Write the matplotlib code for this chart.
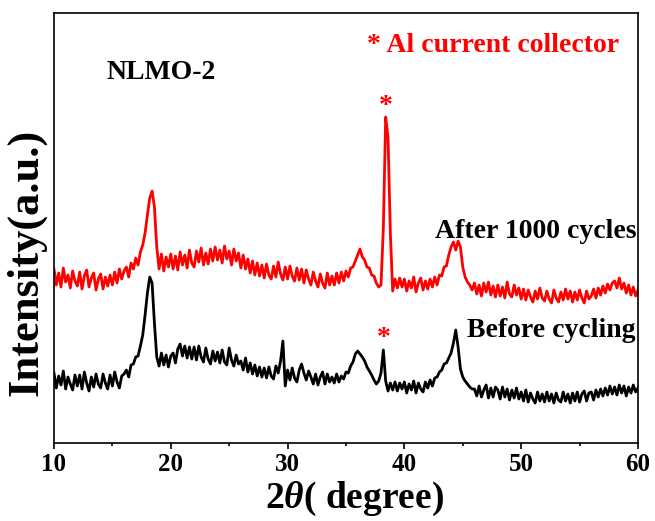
# XRD do NLMO-2: antes e depois de 1000 ciclos
import matplotlib.pyplot as plt
import numpy as np

plt.rcParams['font.family'] = 'Liberation Serif'
plt.rcParams['font.weight'] = 'bold'
plt.rcParams['mathtext.fontset'] = 'custom'
plt.rcParams['mathtext.it'] = 'Liberation Serif:italic:bold'
plt.rcParams['mathtext.rm'] = 'Liberation Serif:bold'

# 2theta de 10 a 60, passo 0.2
two_theta = np.linspace(10, 60, 251)

after_1000 = [
    174, 158, 170, 156, 175, 161, 168, 155, 172, 162,
    157, 171, 154, 167, 173, 156, 165, 170, 153, 164,
    169, 154, 166, 157, 168, 158, 171, 160, 174, 164,
    172, 176, 166, 180, 174, 185, 178, 191, 198, 210,
    228, 245, 252, 236, 196, 174, 189, 172, 186, 176,
    189, 174, 187, 173, 191, 178, 188, 175, 193, 180,
    176, 192, 181, 195, 178, 190, 179, 194, 182, 196,
    183, 193, 180, 197, 184, 192, 178, 194, 182, 190,
    175, 188, 174, 184, 170, 182, 168, 180, 167, 178,
    165, 179, 168, 164, 177, 166, 181, 169, 163, 176,
    164, 177, 167, 162, 175, 163, 174, 160, 173, 164,
    158, 171, 162, 156, 169, 160, 155, 170, 158, 167,
    158, 170, 160, 171, 162, 172, 166, 175, 176, 182,
    188, 194, 186, 183, 176, 175, 168, 167, 160, 156,
    158, 215, 326, 306, 210, 152, 164, 155, 165, 156,
    164, 152, 162, 155, 166, 151, 160, 165, 153, 162,
    154, 164, 156, 166, 158, 168, 167, 176, 177, 188,
    196, 201, 193, 202, 196, 176, 166, 161, 158, 153,
    160, 149, 158, 147, 160, 151, 161, 148, 157, 146,
    158, 147, 156, 145, 161, 149, 146, 158, 148, 155,
    144, 154, 143, 153, 146, 141, 152, 144, 155, 145,
    142, 152, 144, 140, 153, 145, 141, 151, 143, 154,
    144, 152, 141, 151, 143, 153, 145, 140, 152, 144,
    147, 154, 145, 155, 148, 157, 150, 159, 153, 160,
    162, 155, 165, 154, 160, 150, 158, 148, 156, 147,
    153]

before = [
    70, 55, 67, 58, 72, 54, 66, 59, 53, 68,
    57, 68, 54, 71, 60, 52, 66, 56, 69, 59,
    55, 69, 60, 54, 68, 57, 71, 61, 55, 67,
    69, 73, 66, 78, 79, 86, 87, 97, 108, 128,
    150, 166, 160, 120, 86, 77, 90, 78, 88, 76,
    87, 90, 80, 94, 99, 87, 97, 85, 96, 84,
    96, 83, 97, 86, 81, 95, 84, 79, 92, 82,
    91, 80, 93, 81, 78, 95, 83, 77, 88, 79,
    82, 73, 85, 71, 80, 69, 78, 67, 76, 66,
    75, 65, 76, 67, 64, 77, 70, 82, 102, 57,
    73, 63, 75, 65, 61, 73, 79, 70, 63, 72,
    66, 59, 69, 58, 66, 71, 59, 69, 61, 66,
    60, 69, 61, 67, 64, 71, 70, 77, 81, 89,
    92, 89, 86, 82, 76, 72, 68, 63, 59, 62,
    70, 93, 62, 52, 60, 53, 61, 52, 60, 54,
    61, 50, 59, 53, 62, 50, 60, 54, 51, 61,
    55, 63, 57, 65, 66, 71, 73, 79, 80, 85,
    90, 100, 113, 96, 74, 66, 62, 59, 56, 54,
    54, 47, 57, 46, 53, 58, 45, 55, 46, 56,
    53, 44, 56, 46, 54, 43, 53, 45, 55, 44,
    51, 42, 53, 41, 50, 44, 40, 51, 42, 49,
    41, 51, 42, 49, 40, 50, 43, 41, 51, 42,
    49, 40, 50, 42, 51, 41, 49, 52, 42, 50,
    51, 43, 53, 46, 54, 47, 55, 48, 57, 49,
    56, 48, 58, 50, 57, 47, 56, 50, 58, 51,
    55]

xticks = [10, 20, 30, 40, 50, 60]

fig = plt.figure(figsize=(6.55, 5.21), dpi=100)
ax = fig.add_axes([0.0824, 0.1497, 0.8916, 0.8253])

ax.plot(two_theta, after_1000, color='#ff0000', linewidth=2.0)
ax.plot(two_theta, before, color='black', linewidth=2.0)

ax.set_xlim(10, 60)
ax.set_ylim(0, 430)
ax.set_xticks(xticks)
ax.set_xticks([15, 25, 35, 45, 55], minor=True)
ax.tick_params(axis='x', which='major', direction='out', length=4, width=1.2,
               labelsize=18, pad=3, top=False)
ax.tick_params(axis='x', which='minor', direction='out', length=2, width=1.2,
               top=False)
ax.tick_params(axis='y', left=False, labelleft=False, right=False)
for s in ax.spines.values():
    s.set_linewidth(1.2)

ax.set_xlabel(r'2$\theta$( degree)', fontsize=27, fontweight='bold')
ax.xaxis.set_label_coords(0.515, -0.086)
ax.set_ylabel('Intensity(a.u.)', fontsize=32, fontweight='bold')
ax.yaxis.set_label_coords(-0.012, 0.42)

ax.text(14.54, 371, 'NLMO-2', fontsize=20, fontweight='bold', ha='left', va='center')
ax.text(47.6, 398, '* Al current collector', fontsize=20, fontweight='bold',
        color='#ff0000', ha='center', va='center')
ax.text(59.85, 212, 'After 1000 cycles', fontsize=20, fontweight='bold',
        ha='right', va='center')
ax.text(59.75, 113, 'Before cycling', fontsize=20, fontweight='bold',
        ha='right', va='center')
ax.text(38.4, 337, '*', fontsize=20, fontweight='bold', color='#ff0000',
        ha='center', va='center')
ax.text(38.2, 105, '*', fontsize=20, fontweight='bold', color='#ff0000',
        ha='center', va='center')

plt.savefig('out.png', dpi=100)
